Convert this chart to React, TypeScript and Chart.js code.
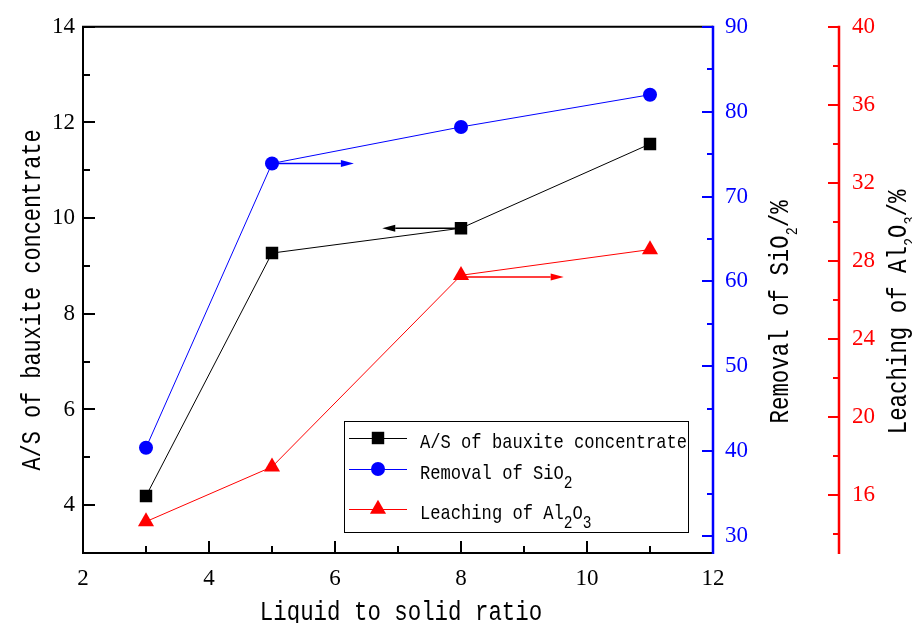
import React, { useEffect, useRef } from 'react';
import { Chart, registerables } from 'chart.js';

Chart.register(...registerables);

// Liquid-to-solid ratio (x) and the three measured responses
const ratios = [3, 5, 8, 11];
const asRatio = [4.19, 9.27, 9.79, 11.55];
const sio2Removal = [40.4, 73.9, 78.2, 82.0];
const al2o3Leaching = [14.61, 17.42, 27.25, 28.57];

// Major / minor tick values for each axis
const xTicks = [2, 4, 6, 8, 10, 12];
const xMinorTicks = [3, 5, 7, 9, 11];
const leftTicks = [4, 6, 8, 10, 12, 14];
const leftMinorTicks = [5, 7, 9, 11, 13];
const sio2Ticks = [30, 40, 50, 60, 70, 80, 90];
const sio2MinorTicks = [35, 45, 55, 65, 75, 85];
const al2o3Ticks = [16, 20, 24, 28, 32, 36, 40];
const al2o3MinorTicks = [14, 18, 22, 26, 30, 34, 38];

// Arrows that tie each curve to its own axis (x range, level on that axis)
const arrowAxes = ['y1', 'y', 'y2'];
const arrowFrom = [5, 8, 8];
const arrowTo = [6.3, 6.75, 9.63];
const arrowLevel = [73.9, 9.79, 27.16];

const BLACK = '#000000';
const BLUE = '#0000ff';
const RED = '#ff0000';

const TEXT_FONT = '"Liberation Mono", monospace';
const TICK_FONT = '"Liberation Serif", serif';

type Part = [string, boolean];

const xTitle: Part[] = [['Liquid to solid ratio', false]];
const leftTitle: Part[] = [['A/S of bauxite concentrate', false]];
const sio2Title: Part[] = [['Removal of SiO', false], ['2', true], ['/%', false]];
const al2o3Title: Part[] = [['Leaching of Al', false], ['2', true], ['O', false], ['3', true], ['/%', false]];

const legendRows: { parts: Part[]; color: string; style: string }[] = [
  { parts: [['A/S of bauxite concentrate', false]], color: BLACK, style: 'rect' },
  { parts: [['Removal of SiO', false], ['2', true]], color: BLUE, style: 'circle' },
  { parts: [['Leaching of Al', false], ['2', true], ['O', false], ['3', true]], color: RED, style: 'triangle' },
];

const RECT_R = 8.8;
const CIRCLE_R = 7;
const TRI_R = 9.3;

function drawRich(
  ctx: CanvasRenderingContext2D,
  parts: Part[],
  x: number,
  y: number,
  angle: number,
  size: number,
  narrow: number,
  subScale: number,
  subDrop: number,
  color: string,
  align: 'center' | 'left'
) {
  ctx.save();
  ctx.translate(x, y);
  ctx.rotate(angle);
  ctx.scale(narrow, 1);
  ctx.fillStyle = color;
  ctx.textAlign = 'left';
  ctx.textBaseline = 'alphabetic';
  const fontOf = (sub: boolean) => `${sub ? size * subScale : size}px ${TEXT_FONT}`;
  let total = 0;
  for (const [t, sub] of parts) {
    ctx.font = fontOf(sub);
    total += ctx.measureText(t).width;
  }
  let pos = align === 'center' ? -total / 2 : 0;
  for (const [t, sub] of parts) {
    ctx.font = fontOf(sub);
    ctx.fillText(t, pos, sub ? subDrop : 0);
    pos += ctx.measureText(t).width;
  }
  ctx.restore();
}

function drawMarker(ctx: CanvasRenderingContext2D, style: string, x: number, y: number, color: string) {
  ctx.save();
  ctx.fillStyle = color;
  ctx.beginPath();
  if (style === 'rect') {
    const s = RECT_R * Math.SQRT1_2;
    ctx.rect(x - s, y - s, 2 * s, 2 * s);
  } else if (style === 'circle') {
    ctx.arc(x, y, CIRCLE_R, 0, Math.PI * 2);
  } else {
    const r = TRI_R;
    ctx.moveTo(x, y - r);
    ctx.lineTo(x + r * Math.sin((2 * Math.PI) / 3), y - r * Math.cos((2 * Math.PI) / 3));
    ctx.lineTo(x + r * Math.sin((4 * Math.PI) / 3), y - r * Math.cos((4 * Math.PI) / 3));
    ctx.closePath();
  }
  ctx.fill();
  ctx.restore();
}

const axesPlugin = {
  id: 'axesAndNotes',
  afterDraw(chart: any) {
    const { ctx, chartArea: a, scales } = chart;
    const sx = scales.x;
    const sy = scales.y;
    const s1 = scales.y1;
    const s2 = scales.y2;

    ctx.save();
    ctx.lineCap = 'butt';

    // frame: top, left, bottom in black
    ctx.strokeStyle = BLACK;
    ctx.lineWidth = 2;
    ctx.beginPath();
    ctx.moveTo(a.right, a.top);
    ctx.lineTo(a.left, a.top);
    ctx.lineTo(a.left, a.bottom);
    ctx.lineTo(a.right, a.bottom);
    ctx.stroke();

    const vTick = (vals: number[], len: number) => {
      ctx.beginPath();
      for (const v of vals) {
        const px = Math.round(sx.getPixelForValue(v));
        ctx.moveTo(px, a.bottom);
        ctx.lineTo(px, a.bottom - len);
      }
      ctx.stroke();
    };
    const hTick = (scale: any, vals: number[], baseX: number, len: number) => {
      ctx.beginPath();
      for (const v of vals) {
        const py = Math.round(scale.getPixelForValue(v));
        ctx.moveTo(baseX, py);
        ctx.lineTo(baseX + len, py);
      }
      ctx.stroke();
    };

    vTick(xTicks, 12);
    vTick(xMinorTicks, 7);
    hTick(sy, leftTicks, a.left, 12);
    hTick(sy, leftMinorTicks, a.left, 7);

    // SiO2 axis on the plot's right edge
    ctx.strokeStyle = BLUE;
    ctx.lineWidth = 2.5;
    ctx.beginPath();
    ctx.moveTo(a.right, a.top - 1);
    ctx.lineTo(a.right, a.bottom + 1);
    ctx.stroke();
    ctx.lineWidth = 2;
    hTick(s1, sio2Ticks, a.right, -11);
    hTick(s1, sio2MinorTicks, a.right, -6);

    // Al2O3 axis, offset outward
    ctx.strokeStyle = RED;
    ctx.lineWidth = 2.5;
    ctx.beginPath();
    ctx.moveTo(s2.left, a.top - 1);
    ctx.lineTo(s2.left, a.bottom + 1);
    ctx.stroke();
    ctx.lineWidth = 2;
    hTick(s2, al2o3Ticks, s2.left, -11);
    hTick(s2, al2o3MinorTicks, s2.left, -6);

    // arrows
    const arrowColors = [BLUE, BLACK, RED];
    for (let i = 0; i < arrowAxes.length; i++) {
      const scale = scales[arrowAxes[i]];
      const py = scale.getPixelForValue(arrowLevel[i]);
      const x0 = sx.getPixelForValue(arrowFrom[i]);
      const x1 = sx.getPixelForValue(arrowTo[i]);
      const dir = Math.sign(x1 - x0);
      const head = 13;
      ctx.strokeStyle = arrowColors[i];
      ctx.fillStyle = arrowColors[i];
      ctx.lineWidth = 1.5;
      ctx.beginPath();
      ctx.moveTo(x0, py);
      ctx.lineTo(x1 - dir * head, py);
      ctx.stroke();
      ctx.beginPath();
      ctx.moveTo(x1, py);
      ctx.lineTo(x1 - dir * head, py - 3.5);
      ctx.lineTo(x1 - dir * head, py + 3.5);
      ctx.closePath();
      ctx.fill();
    }

    // axis titles
    const mid = (a.top + a.bottom) / 2;
    drawRich(ctx, xTitle, (a.left + a.right) / 2 + 3, 620, 0, 27, 0.83, 0.6, 9, BLACK, 'center');
    drawRich(ctx, leftTitle, 40, mid + 10, -Math.PI / 2, 27, 0.81, 0.6, 9, BLACK, 'center');
    drawRich(ctx, sio2Title, 788, mid + 22, -Math.PI / 2, 27, 0.83, 0.6, 9, BLACK, 'center');
    drawRich(ctx, al2o3Title, 906, mid + 22, -Math.PI / 2, 27, 0.83, 0.6, 9, BLACK, 'center');

    // legend
    const box = { left: 344, top: 421, right: 688, bottom: 532 };
    ctx.strokeStyle = BLACK;
    ctx.lineWidth = 1;
    ctx.strokeRect(box.left + 0.5, box.top + 0.5, box.right - box.left, box.bottom - box.top);
    const rowY = [438, 469, 509];
    legendRows.forEach((row, i) => {
      const y = rowY[i];
      ctx.strokeStyle = row.color;
      ctx.lineWidth = 1;
      ctx.beginPath();
      ctx.moveTo(349, y + 0.5);
      ctx.lineTo(407, y + 0.5);
      ctx.stroke();
      drawMarker(ctx, row.style, 378, y, row.color);
      drawRich(ctx, row.parts, 420, y + 10, 0, 21, 0.815, 0.85, 9, BLACK, 'left');
    });

    ctx.restore();
  },
};

export default function App() {
  const canvasRef = useRef<HTMLCanvasElement | null>(null);

  useEffect(() => {
    const canvas = canvasRef.current;
    if (!canvas) return;
    const points = (ys: number[]) => ratios.map((r, i) => ({ x: r, y: ys[i] }));

    const chart = new Chart(canvas, {
      type: 'line',
      data: {
        datasets: [
          {
            label: 'A/S of bauxite concentrate',
            data: points(asRatio),
            yAxisID: 'y',
            borderColor: BLACK,
            backgroundColor: BLACK,
            borderWidth: 1,
            pointStyle: 'rect',
            pointRadius: RECT_R,
            pointBorderWidth: 0,
          },
          {
            label: 'Removal of SiO2',
            data: points(sio2Removal),
            yAxisID: 'y1',
            borderColor: BLUE,
            backgroundColor: BLUE,
            borderWidth: 1,
            pointStyle: 'circle',
            pointRadius: CIRCLE_R,
            pointBorderWidth: 0,
          },
          {
            label: 'Leaching of Al2O3',
            data: points(al2o3Leaching),
            yAxisID: 'y2',
            borderColor: RED,
            backgroundColor: RED,
            borderWidth: 1,
            pointStyle: 'triangle',
            pointRadius: TRI_R,
            pointBorderWidth: 0,
          },
        ],
      },
      options: {
        responsive: false,
        animation: false,
        devicePixelRatio: 1,
        layout: { padding: { top: 20, left: 0, right: 0, bottom: 0 } },
        plugins: { legend: { display: false }, tooltip: { enabled: false } },
        scales: {
          x: {
            type: 'linear',
            position: 'bottom',
            min: 2,
            max: 12,
            afterBuildTicks: (s: any) => {
              s.ticks = xTicks.map((v) => ({ value: v }));
            },
            afterFit: (s: any) => {
              s.height = 70;
            },
            grid: { display: false, drawTicks: false },
            border: { display: false },
            ticks: { color: BLACK, font: { family: TICK_FONT, size: 23 }, padding: 12, maxRotation: 0, autoSkip: false },
          },
          y: {
            type: 'linear',
            position: 'left',
            min: 3,
            max: 14,
            afterBuildTicks: (s: any) => {
              s.ticks = leftTicks.map((v) => ({ value: v }));
            },
            afterFit: (s: any) => {
              s.width = 83;
            },
            grid: { display: false, drawTicks: false },
            border: { display: false },
            ticks: { color: BLACK, font: { family: TICK_FONT, size: 23 }, padding: 8, autoSkip: false },
          },
          y1: {
            type: 'linear',
            position: 'right',
            min: 28,
            max: 90,
            afterBuildTicks: (s: any) => {
              s.ticks = sio2Ticks.map((v) => ({ value: v }));
            },
            afterFit: (s: any) => {
              s.width = 126;
            },
            grid: { display: false, drawTicks: false },
            border: { display: false },
            ticks: { color: BLUE, font: { family: TICK_FONT, size: 23 }, padding: 12, autoSkip: false },
          },
          y2: {
            type: 'linear',
            position: 'right',
            min: 13,
            max: 40,
            afterBuildTicks: (s: any) => {
              s.ticks = al2o3Ticks.map((v) => ({ value: v }));
            },
            afterFit: (s: any) => {
              s.width = 73;
            },
            grid: { display: false, drawTicks: false },
            border: { display: false },
            ticks: { color: RED, font: { family: TICK_FONT, size: 23 }, padding: 13, autoSkip: false },
          },
        },
      },
      plugins: [axesPlugin],
    });

    return () => chart.destroy();
  }, []);

  return (
    <div style={{ position: 'fixed', left: 0, top: 0, width: 912, height: 623, background: '#ffffff' }}>
      <canvas ref={canvasRef} width={912} height={623} style={{ display: 'block' }} />
    </div>
  );
}
